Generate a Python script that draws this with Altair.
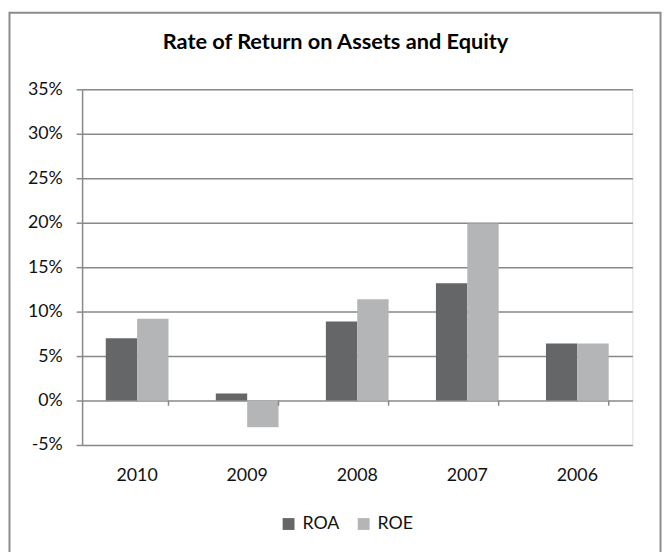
import altair as alt
import pandas as pd

years = ["2010", "2009", "2008", "2007", "2006"]
roa = [0.070, 0.008, 0.089, 0.132, 0.064]
roe = [0.092, -0.030, 0.114, 0.199, 0.064]
series = ["ROA", "ROE"]
colors = ["#656667", "#b4b5b7"]
y_ticks = [-0.05, 0.0, 0.05, 0.10, 0.15, 0.20, 0.25, 0.30, 0.35]

rows = []
for i, yr in enumerate(years):
    rows.append({"year": yr, "series": "ROA", "value": roa[i]})
    rows.append({"year": yr, "series": "ROE", "value": roe[i]})
df = pd.DataFrame(rows)
ticks_df = pd.DataFrame({"year": years})
frame_df = pd.DataFrame({"k": [0]})

FONT = "Lato"
GRAY = "#888888"
W, H = 557, 360

xscale = alt.Scale(domain=years, paddingInner=0.43, paddingOuter=0.215)
yscale = alt.Scale(domain=[-0.05, 0.35], nice=False, zero=False)

bars = alt.Chart(df).mark_bar().encode(
    x=alt.X("year:N", scale=xscale, sort=years,
            axis=alt.Axis(title=None, domain=False, ticks=False, tickSize=0,
                          grid=False, labelAngle=0, labelPadding=22,
                          labelFont=FONT, labelFontSize=18, labelColor="#111")),
    xOffset=alt.XOffset("series:N", scale=alt.Scale(domain=series, paddingInner=0, paddingOuter=0)),
    y=alt.Y("value:Q", scale=yscale,
            axis=alt.Axis(title=None, values=y_ticks, format=".0%",
                          labelExpr="replace(datum.label, '\u2212', '-')",
                          domain=True, domainColor=GRAY, domainWidth=1.5,
                          ticks=True, tickColor=GRAY, tickWidth=1.5, tickSize=6,
                          grid=True, gridColor=GRAY, gridWidth=1.5,
                          labelPadding=14, labelFont=FONT, labelFontSize=18,
                          labelColor="#111")),
    color=alt.Color("series:N", scale=alt.Scale(domain=series, range=colors),
                    legend=alt.Legend(title=None, orient="none", direction="horizontal",
                                      legendX=200, legendY=431, padding=0,
                                      symbolType="square", symbolSize=144,
                                      symbolStrokeWidth=0, labelOffset=5,
                                      columnPadding=15, labelFont=FONT,
                                      labelFontSize=18, labelColor="#111")),
)

zero_ticks = alt.Chart(ticks_df).mark_rule(color=GRAY, strokeWidth=1.5).encode(
    x=alt.X("year:N", bandPosition=1, scale=xscale, sort=years),
    y=alt.datum(0.0),
    y2=alt.datum(-0.0058),
)

frame = alt.Chart(frame_df).mark_rect(fill=None, fillOpacity=0, stroke="#8c8c8c",
                                       strokeWidth=2).encode(
    x=alt.value(-73.5), x2=alt.value(585.5),
    y=alt.value(-77.5), y2=alt.value(480),
)

chart = alt.layer(bars, zero_ticks, frame).properties(
    width=W, height=H,
    title=alt.Title("Rate of Return on Assets and Equity", font=FONT, fontSize=22,
                    fontWeight="bold", color="#000", anchor="middle", dx=-22,
                    offset=0, dy=43),
    autosize=alt.AutoSizeParams(type="none"),
    padding={"left": 75, "top": 79, "right": 31, "bottom": 105},
).configure_view(stroke=None).configure(background="white")

chart.save("out.html", embed_options={"renderer": "svg", "actions": False})
